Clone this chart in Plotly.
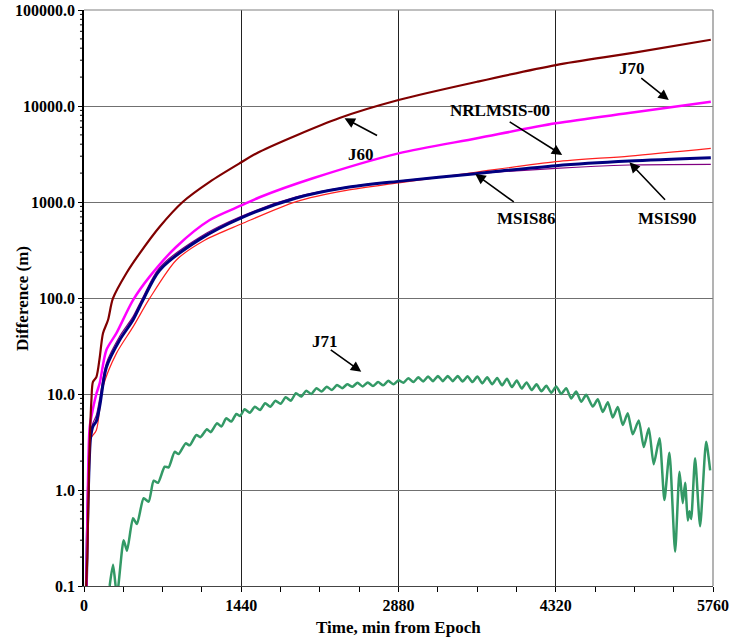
import plotly.graph_objects as go

# ---------------- data ----------------
t_j60 = [20, 30, 46, 68, 82, 113, 144, 174, 220, 265, 388, 510, 693, 906, 1151, 1425, 1608,
         2340, 2880, 3600, 4320, 5040, 5740]
v_j60 = [0.1, 0.2, 1.75, 8.7, 13.4, 15, 24, 43, 59, 99, 181, 292, 553, 1007, 1623, 2530, 3340,
         7500, 11550, 17900, 26700, 35900, 49000]

t_j70 = [22, 35, 52, 82, 113, 144, 205, 297, 449, 601, 846, 1151, 1440, 1608, 2096, 2880, 3600,
         4320, 5040, 5740]
v_j70 = [0.1, 1.0, 4.5, 7, 10, 13, 28.7, 43, 95, 167, 342, 649, 920, 1120, 1766, 3210, 4610,
         6600, 8590, 11100]

t_msis90 = [22, 40, 60, 82, 113, 144, 205, 327, 449, 540, 693, 1059, 1440, 1944, 2402, 2880,
            3584, 4320, 4995, 5740]
v_msis90 = [0.1, 1.0, 3.5, 4.6, 5.2, 7.5, 19, 36.5, 59, 95, 195, 408, 684, 1100, 1413, 1640,
            1972, 2390, 2670, 2890]

t_msis86 = [20, 38, 55, 82, 113, 144, 205, 327, 449, 540, 693, 1059, 1440, 1944, 2402, 2880,
            3584, 4320, 4995, 5740]
v_msis86 = [0.1, 1.0, 3.8, 5.0, 6, 9, 21, 40, 64, 102, 208, 430, 710, 1130, 1430, 1650,
            1960, 2245, 2430, 2470]

t_nrl = [25, 45, 52, 113, 174, 297, 449, 601, 846, 1105, 1440, 1944, 2402, 2880, 3584, 4320,
         4995, 5740]
v_nrl = [0.1, 1.5, 3.3, 4.2, 11.9, 26.5, 50, 99, 249, 400, 590, 1010, 1320, 1580, 2040, 2630,
         3010, 3620]

t_j71 = [235, 266, 302, 363, 394, 449, 485, 546, 592, 638, 678, 739, 775, 830, 867, 931, 968,
         1029, 1065, 1126, 1160, 1218, 1258, 1303, 1349, 1395, 1430,
         1471, 1518, 1565, 1612, 1659, 1706, 1753, 1800, 1847, 1894, 1941, 1988, 2035, 2082,
         2129, 2176, 2223, 2270, 2317, 2364, 2411, 2458, 2505, 2552, 2599, 2646, 2693, 2740,
         2787, 2834,
         2880, 2925, 2970, 3016, 3061, 3106, 3151, 3196, 3241, 3286, 3331, 3377, 3422, 3467,
         3512, 3557, 3602, 3647, 3692, 3738, 3783, 3828, 3873, 3918, 3963, 4008, 4053, 4099,
         4144, 4189, 4234, 4279, 4324,
         4370, 4416, 4461, 4507, 4553, 4599, 4659, 4705, 4751, 4797, 4842, 4888, 4934, 4979,
         5025, 5080, 5126, 5172, 5217, 5270, 5315, 5361, 5413, 5453, 5483, 5505, 5529, 5544,
         5560, 5596, 5642, 5697, 5734]
v_j71 = [0.1, 0.166, 0.08, 0.30, 0.233, 0.507, 0.443, 0.82, 0.756, 1.25, 1.19, 1.75, 1.72, 2.5,
         2.37, 3.06, 2.92, 3.74, 3.55, 4.29, 4.0, 4.95, 4.58, 5.58, 5.16, 6.19, 5.9,
         6.93, 6.38, 7.38, 6.8, 8.0, 7.38, 8.5, 7.9, 9.24, 8.5, 10.2, 9.4, 10.8, 10.0,
         11.5, 10.6, 11.9, 11.0, 12.4, 11.5, 12.6, 11.9, 13.1, 12.0, 13.2, 12.1, 13.3, 12.3,
         13.7, 12.6,
         13.9, 13.1, 14.6, 13.3, 14.9, 13.5, 15.2, 13.6, 15.4, 13.6, 15.4, 13.6, 15.4, 13.5,
         15.3, 13.3, 15.2, 12.9, 14.9, 12.6, 14.7, 12.3, 14.4, 11.8, 13.8, 11.4, 13.2, 11.0,
         12.6, 10.7, 12.2, 10.3, 12.0,
         10.0, 11.5, 9.0, 10.6, 8.3, 9.8, 7.4, 8.8, 6.5, 8.2, 5.7, 7.3, 4.75, 6.3,
         3.8, 5.3, 2.8, 4.4, 1.85, 3.46, 0.787, 2.45, 0.228, 1.55, 0.73, 1.19, 0.48, 0.6,
         0.5, 2.14, 0.42, 3.18, 1.6]

y_tick_vals = [0.1, 1, 10, 100, 1000, 10000, 100000]
y_tick_text = ["0.1", "1.0", "10.0", "100.0", "1000.0", "10000.0", "100000.0"]
x_tick_vals = [0, 1440, 2880, 4320, 5760]
x_tick_text = ["0", "1440", "2880", "4320", "5760"]

FONT = "Liberation Serif"

fig = go.Figure()
fig.add_trace(go.Scatter(x=t_nrl, y=v_nrl, mode="lines", name="NRLMSIS-00",
                         line=dict(color="#FF2020", width=1.2, shape="spline", smoothing=0.8)))
fig.add_trace(go.Scatter(x=t_msis86, y=v_msis86, mode="lines", name="MSIS86",
                         line=dict(color="#800080", width=1.2, shape="spline", smoothing=0.8)))
fig.add_trace(go.Scatter(x=t_msis90, y=v_msis90, mode="lines", name="MSIS90",
                         line=dict(color="#000080", width=3, shape="spline", smoothing=0.8)))
fig.add_trace(go.Scatter(x=t_j70, y=v_j70, mode="lines", name="J70",
                         line=dict(color="#FF00FF", width=2.5, shape="spline", smoothing=0.8)))
fig.add_trace(go.Scatter(x=t_j60, y=v_j60, mode="lines", name="J60",
                         line=dict(color="#800000", width=2.2, shape="spline", smoothing=0.8)))
fig.add_trace(go.Scatter(x=t_j71, y=v_j71, mode="lines", name="J71",
                         line=dict(color="#339966", width=2.5, shape="spline", smoothing=0.6)))

fig.update_layout(
    width=732, height=640,
    margin=dict(l=84, r=19, t=10, b=54),
    paper_bgcolor="white", plot_bgcolor="white",
    showlegend=False,
    font=dict(family=FONT, size=16, color="black"),
)
fig.update_xaxes(
    range=[0, 5760], tickvals=x_tick_vals, ticktext=x_tick_text,
    ticks="outside", ticklen=5, tickcolor="black",
    tickfont=dict(family=FONT, size=16, weight="bold"),
    showgrid=True, gridcolor="#222222", gridwidth=1,
    showline=True, linecolor="#444444", linewidth=1.2,
    minor=dict(dtick=360, tick0=0, ticks="outside", ticklen=5, tickcolor="black", showgrid=False),
    zeroline=False, automargin=False,
)
fig.update_yaxes(
    type="log", range=[-1, 5], tickvals=y_tick_vals, ticktext=y_tick_text,
    ticks="outside", ticklen=4, tickcolor="black",
    tickfont=dict(family=FONT, size=16, weight="bold"),
    showgrid=True, gridcolor="#707070", gridwidth=1.2,
    showline=True, linecolor="black", linewidth=1.5,
    zeroline=False, automargin=False,
)

# plot-area border (top and right)
fig.add_shape(type="line", xref="paper", yref="paper", x0=0, x1=1, y0=1, y1=1,
              line=dict(color="#808080", width=1.2))
fig.add_shape(type="line", xref="paper", yref="paper", x0=1, x1=1, y0=0, y1=1,
              line=dict(color="#808080", width=1.2))

# log-axis minor ticks on the left (decade sub-divisions)
for d in range(-1, 5):
    for m in range(2, 10):
        yv = m * 10.0 ** d
        fig.add_shape(type="line", xref="paper", yref="y", x0=-0.0064, x1=0,
                      y0=yv, y1=yv, line=dict(color="black", width=1))

# axis titles
fig.add_annotation(text="<b>Difference (m)</b>", xref="paper", yref="paper",
                   x=-0.0986, y=0.5, textangle=-90, showarrow=False,
                   xanchor="center", yanchor="middle", font=dict(family=FONT, size=17))
fig.add_annotation(text="<b>Time, min from Epoch</b>", xref="paper", yref="paper",
                   x=0.5, y=-0.0712, showarrow=False, xanchor="center", yanchor="middle",
                   font=dict(family=FONT, size=17))

# labels and arrows (annotation y on a log axis is given in log10 units)
labels = [
    ("J60", 2539, 3.50, 2386, 3.872, 34, 18),
    ("J70", 5020, 4.393, 5355, 4.062, -29, -23),
    ("NRLMSIS-00", 3805, 3.958, 4379, 3.49, -54, -34),
    ("MSIS86", 4049, 2.83, 3583, 3.292, 40, 29),
    ("MSIS90", 5346, 2.83, 4995, 3.414, 37, 39),
    ("J71", 2204, 1.542, 2539, 1.232, -32, -23),
]
for txt, tx, ty, hx, hy, ax, ay in labels:
    fig.add_annotation(text="<b>%s</b>" % txt, x=tx, y=ty, xref="x", yref="y",
                       showarrow=False, font=dict(family=FONT, size=17, color="black"))
    fig.add_annotation(text="", x=hx, y=hy, xref="x", yref="y", ax=ax, ay=ay,
                       showarrow=True, arrowhead=2, arrowsize=1.3, arrowwidth=1.6,
                       arrowcolor="black", standoff=0)

fig.write_html("out.html", config={"displayModeBar": False},
               post_script="document.body.style.margin='0';")
